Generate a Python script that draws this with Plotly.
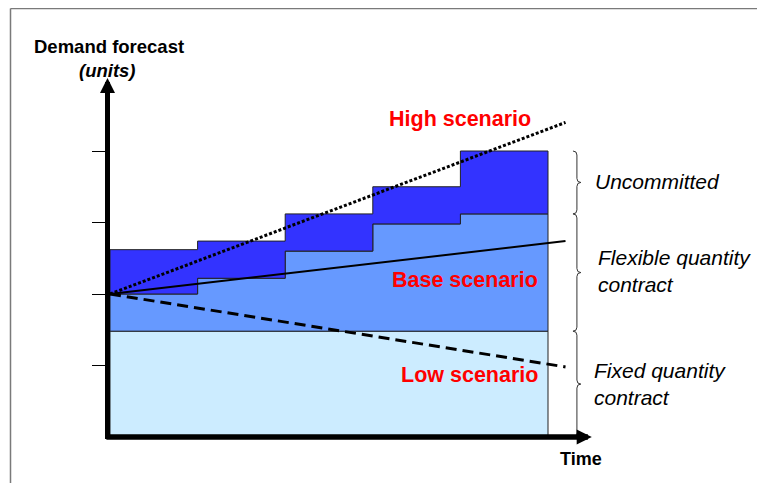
import plotly.graph_objects as go

# ---------------- data ----------------
period_edges = [0, 1, 2, 3, 4, 5]                 # time periods
fixed_contract = [74, 74, 74, 74, 74]             # fixed quantity contract level
flexible_top = [100, 111, 130, 149, 156]          # fixed + flexible quantity
uncommitted_top = [131, 137, 156, 175, 200]       # high end of demand band
scenario_x = [0, 5.2]
high_scenario = [100, 220]
base_scenario = [100, 137]
low_scenario = [100, 49]
tick_values = [50, 100, 150, 200]
axis_time_max = 5.5
axis_demand_max = 251

# ---------------- pixel <-> data mapping (layout only) ----------------
OFF = 8                              # default page body margin
W, H = 765 - OFF, 491 - 2 * OFF      # figure size inside the page
X0_PX, X_SCALE = 110.0 - OFF, 87.6   # px of time 0 (figure coords), px per period
Y0_PX, Y_SCALE = 437.0 - OFF, 1.43   # px of demand 0 (figure coords), px per unit


def PX(x):
    return (x - OFF) / W


def PY(y):
    return 1 - (y - OFF) / H


x_range = [(0 - X0_PX) / X_SCALE, (W - X0_PX) / X_SCALE]
y_range = [(Y0_PX - H) / Y_SCALE, Y0_PX / Y_SCALE]
y_axis_x = (107.5 - OFF - X0_PX) / X_SCALE


def step(edges, vals):
    xs, ys = [], []
    for i, v in enumerate(vals):
        xs += [edges[i], edges[i + 1]]
        ys += [v, v]
    return xs, ys


def band(edges, top, bottom):
    xt, yt = step(edges, top)
    xb, yb = step(edges, bottom)
    return xt + xb[::-1] + [xt[0]], yt + yb[::-1] + [yt[0]]


fig = go.Figure()

zero = [0] * len(fixed_contract)
bands = [
    (fixed_contract, zero, "#CCECFF"),
    (flexible_top, fixed_contract, "#6699FF"),
    (uncommitted_top, flexible_top, "#3333FF"),
]
for top, bottom, col in bands:
    bx, by = band(period_edges, top, bottom)
    fig.add_trace(go.Scatter(x=bx, y=by, mode="lines", fill="toself",
                             fillcolor=col, line=dict(color="#222222", width=1),
                             hoverinfo="skip", showlegend=False))

# scenario lines
fig.add_trace(go.Scatter(x=scenario_x, y=high_scenario, mode="lines",
                         line=dict(color="black", width=3, dash="3px,2px"),
                         hoverinfo="skip", showlegend=False))
fig.add_trace(go.Scatter(x=scenario_x, y=base_scenario, mode="lines",
                         line=dict(color="black", width=2),
                         hoverinfo="skip", showlegend=False))
fig.add_trace(go.Scatter(x=scenario_x, y=low_scenario, mode="lines",
                         line=dict(color="black", width=3, dash="11px,6px"),
                         hoverinfo="skip", showlegend=False))

# braces
shapes = []
brace_x, brace_dx, brace_dy = 5.33, 0.045, 2.8
brace_ranges = [
    (max(uncommitted_top), max(flexible_top)),
    (max(flexible_top), fixed_contract[0]),
    (fixed_contract[0], 0),
]
for top, bot in brace_ranges:
    mid = (top + bot) / 2
    xc = brace_x
    p = (f"M {xc - brace_dx},{top} Q {xc},{top} {xc},{top - brace_dy} "
         f"L {xc},{mid + brace_dy} Q {xc},{mid} {xc + brace_dx},{mid} "
         f"Q {xc},{mid} {xc},{mid - brace_dy} "
         f"L {xc},{bot + brace_dy} Q {xc},{bot} {xc - brace_dx},{bot}")
    shapes.append(dict(type="path", path=p, xref="x", yref="y",
                       line=dict(color="#333333", width=1)))

# frame (top and left edges only; the rest lies outside the picture)
shapes.append(dict(type="line", xref="paper", yref="paper",
                   x0=PX(10.5), x1=1.0, y0=PY(8.5), y1=PY(8.5),
                   line=dict(color="#7a7a7a", width=1.5), layer="below"))
shapes.append(dict(type="line", xref="paper", yref="paper",
                   x0=PX(10.5), x1=PX(10.5), y0=PY(8.5), y1=0.0,
                   line=dict(color="#7a7a7a", width=1.5), layer="below"))

font_fam = "Liberation Sans, Arial, sans-serif"
ann = []
# axes with arrows
ann.append(dict(x=axis_time_max, y=0, ax=y_axis_x - 0.03, ay=0,
                xref="x", yref="y", axref="x", ayref="y", text="",
                showarrow=True, arrowhead=2, arrowwidth=5.5, arrowsize=0.55,
                arrowcolor="black"))
ann.append(dict(x=y_axis_x, y=axis_demand_max, ax=y_axis_x, ay=-2.5,
                xref="x", yref="y", axref="x", ayref="y", text="",
                showarrow=True, arrowhead=2, arrowwidth=5, arrowsize=0.6,
                arrowcolor="black"))


def txt(text, x, y, xanchor, size, color="black", weight="normal", style="normal"):
    ann.append(dict(text=text, x=PX(x), y=PY(y), xref="paper", yref="paper",
                    xanchor=xanchor, yanchor="middle", showarrow=False, align="left",
                    font=dict(family=font_fam, size=size, color=color,
                              weight=weight, style=style)))


txt("Demand forecast", 32, 47, "left", 18.5, weight="bold")
txt("(units)", 107, 70, "center", 18.5, weight="bold", style="italic")
txt("Time", 581, 459, "center", 18, weight="bold")
txt("High scenario", 460, 119, "center", 21.5, color="#FF0000", weight="bold")
txt("Base scenario", 540, 280, "right", 21.5, color="#FF0000", weight="bold")
txt("Low scenario", 540, 375, "right", 21.5, color="#FF0000", weight="bold")
txt("Uncommitted", 593, 182, "left", 21, style="italic")
txt("Flexible quantity<br>contract", 596, 271, "left", 21, style="italic")
txt("Fixed quantity<br>contract", 592, 384, "left", 21, style="italic")

fig.update_layout(
    width=W, height=H, margin=dict(l=0, r=0, t=0, b=0),
    paper_bgcolor="white", plot_bgcolor="white",
    shapes=shapes, annotations=ann,
    xaxis=dict(range=x_range, showgrid=False, zeroline=False,
               showticklabels=False, ticks="", showline=False, fixedrange=True),
    yaxis=dict(range=y_range, showgrid=False, zeroline=False,
               showticklabels=False, ticks="outside", ticklen=14, tickwidth=1,
               tickcolor="black", tickvals=tick_values, showline=False,
               anchor="free", position=PX(106), fixedrange=True),
)

fig.write_html("out.html")
